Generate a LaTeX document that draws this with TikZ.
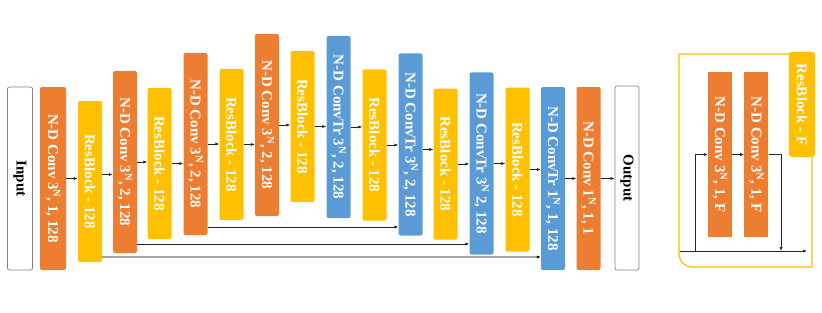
\documentclass[tikz,border=0pt]{standalone}
\usepackage{fontspec}
\setmainfont{Liberation Serif}
\usepackage{graphicx}
\usetikzlibrary{arrows.meta,positioning}
\definecolor{cconv}{RGB}{237,125,49}
\definecolor{cres}{RGB}{255,192,0}
\definecolor{ctr}{RGB}{91,155,213}
\definecolor{cskip}{RGB}{165,165,165}

\begin{document}
\begin{tikzpicture}[
  x=1pt, y=-1pt,
  font=\fontsize{15}{18}\selectfont\bfseries,
  convstep/.style={rounded corners=2pt, inner sep=0pt, minimum width=24pt, minimum height=182pt, fill=cconv, text=white},
  resstep/.style={convstep, fill=cres, minimum height=151pt},
  trstep/.style={convstep, fill=ctr},
  iostep/.style={convstep, fill=white, draw=black!50, text=black, line width=0.7pt},
  ar/.style={-{Latex[length=4pt,width=3.2pt]}, line width=0.7pt, black!85},
  skipar/.style={-{Latex[length=4pt,width=3.2pt,black]}, line width=1.8pt, cskip},
]
\useasboundingbox (0,0) rectangle (822,313);
% main network
\node[iostep, minimum width=25pt, minimum height=183pt] (in) at (20,178.5) {\rotatebox{-90}{Input}};
\node[convstep, minimum width=26pt, minimum height=183pt] (c1) at (53,178.5) {\rotatebox{-90}{N-D Conv 3\textsuperscript{N}, 1, 128}};
\node[resstep, minimum height=161pt] (r1) at (90,181.5) {\rotatebox{-90}{ResBlock - 128}};
\node[convstep] (c2) at (125,162) {\rotatebox{-90}{N-D Conv 3\textsuperscript{N}, 2, 128}};
\node[resstep] (r2) at (159.5,163.5) {\rotatebox{-90}{ResBlock - 128}};
\node[convstep] (c3) at (195.5,144) {\rotatebox{-90}{N-D Conv 3\textsuperscript{N}, 2, 128}};
\node[resstep] (r3) at (231.5,144.5) {\rotatebox{-90}{ResBlock - 128}};
\node[convstep] (c4) at (267,125) {\rotatebox{-90}{N-D Conv 3\textsuperscript{N}, 2, 128}};
\node[resstep] (r4) at (302.5,126.5) {\rotatebox{-90}{ResBlock - 128}};
\node[trstep] (t1) at (338.5,127) {\rotatebox{-90}{N-D ConvTr 3\textsuperscript{N}, 2, 128}};
\node[resstep] (r5) at (374.5,145) {\rotatebox{-90}{ResBlock - 128}};
\node[trstep] (t2) at (410.5,144.5) {\rotatebox{-90}{N-D ConvTr 3\textsuperscript{N}, 2, 128}};
\node[resstep] (r6) at (445.5,164) {\rotatebox{-90}{ResBlock - 128}};
\node[trstep] (t3) at (481.5,163.5) {\rotatebox{-90}{N-D ConvTr 3\textsuperscript{N} 2, 128}};
\node[resstep, minimum height=164pt] (r7) at (517.5,169.5) {\rotatebox{-90}{ResBlock - 128}};
\node[trstep, minimum height=183pt] (t4) at (553,178.5) {\rotatebox{-90}{N-D ConvTr 1\textsuperscript{N}, 1, 128}};
\node[convstep, minimum height=183pt] (c5) at (588.5,178.5) {\rotatebox{-90}{N-D Conv 1\textsuperscript{N}, 1, 1}};
\node[iostep, minimum height=184pt] (out) at (627,178) {\rotatebox{-90}{Output}};
\draw[ar] (c1.east) -- (c1.east -| r1.west); \draw[ar] ([yshift=7pt]r1.east) -- ([yshift=7pt]r1.east -| c2.west);
\draw[ar] (c2.east) -- (c2.east -| r2.west); \draw[ar] (r2.east) -- (r2.east -| c3.west);
\draw[ar] (c3.east) -- (c3.east -| r3.west); \draw[ar] (r3.east) -- (r3.east -| c4.west);
\draw[ar] (c4.east) -- (c4.east -| r4.west); \draw[ar] (r4.east) -- (r4.east -| t1.west);
\draw[ar] (t1.east) -- (t1.east -| r5.west); \draw[ar] (r5.east) -- (r5.east -| t2.west);
\draw[ar] ([yshift=-5pt]t2.east) -- ([yshift=-5pt]t2.east -| r6.west); \draw[ar] (r6.east) -- (r6.east -| t3.west);
\draw[ar] (t3.east) -- (t3.east -| r7.west); \draw[ar] (r7.east) -- (r7.east -| t4.west);
\draw[ar] (t4.east) -- (t4.east -| c5.west); \draw[ar] (c5.east) -- (c5.east -| out.west);
% skip connections
\draw[ar] (c3.east |- 0,227) -- (t2.west |- 0,227);
\draw[ar] (c2.east |- 0,244) -- (t3.west |- 0,244);
\draw[skipar] (r1.east |- 0,257) -- (t4.west |- 0,257);
% residual block
\draw[cres, line width=1.2pt] (812,267) -- (812,54) -- (679,54) -- (679,254) arc[start angle=180, end angle=90, radius=13] -- cycle;
\node[resstep, minimum width=26pt, minimum height=105pt, rounded corners=3pt] (rbf) at (802,104.5) {\rotatebox{-90}{ResBlock - F}};
\node[convstep, sharp corners, minimum height=165pt] (ca) at (720,154.5) {\rotatebox{-90}{N-D Conv 3\textsuperscript{N}, 1, F}};
\node[convstep, sharp corners, minimum height=165pt, right=12pt of ca] (cb) {\rotatebox{-90}{N-D Conv 3\textsuperscript{N}, 1, F}};
\coordinate (rin) at (680,251);
\coordinate (rout) at (807,251);
\coordinate (sa) at (695,251);
\coordinate (sb) at (781,251);
\draw[ar] (rin) -- (rout);
\draw[ar] (sa) |- (ca.west);
\draw[ar] (ca) -- (cb);
\draw[ar] (cb.east) -| (sb);
\end{tikzpicture}
\end{document}
